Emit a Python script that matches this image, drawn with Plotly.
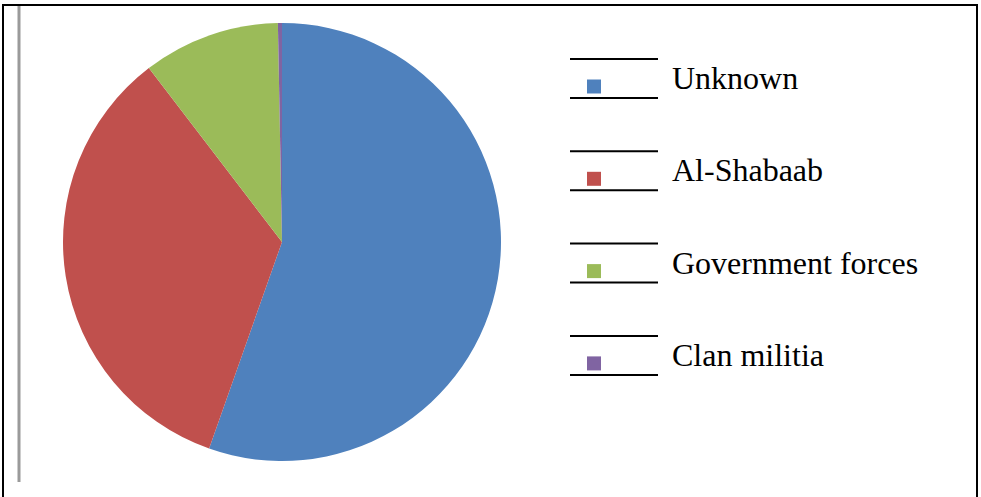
import plotly.graph_objects as go

labels = ["Unknown", "Al-Shabaab", "Government forces", "Clan militia"]
values = [55.4, 34.2, 10.1, 0.3]
colors = ["#4F81BD", "#C0504D", "#9BBB59", "#8064A2"]

W, H = 981, 497


def px(x):
    return x / W


def py(y):
    return 1 - y / H


fig = go.Figure()
fig.add_trace(go.Pie(
    labels=labels,
    values=values,
    marker=dict(colors=colors, line=dict(width=0)),
    sort=False,
    direction="clockwise",
    rotation=0,
    textinfo="none",
    hoverinfo="label+percent",
    showlegend=False,
    domain=dict(x=[px(282 - 219), px(282 + 219)], y=[py(242 + 219), py(242 - 219)]),
))

shapes = []
annotations = []
# outer frame (top, left, right)
frame = dict(type="line", xref="paper", yref="paper", line=dict(color="black", width=2))
shapes.append(dict(frame, x0=px(3), x1=px(978), y0=py(5), y1=py(5)))
shapes.append(dict(frame, x0=px(3), x1=px(3), y0=py(4), y1=py(497)))
shapes.append(dict(frame, x0=px(977), x1=px(977), y0=py(4), y1=py(497)))
# grey inner line on the left
shapes.append(dict(type="line", xref="paper", yref="paper", x0=px(19), x1=px(19),
                   y0=py(6), y1=py(482), line=dict(color="#9a9a9a", width=3)))

# hand-drawn legend
step = 92.3
for i, (lab, col) in enumerate(zip(labels, colors)):
    off = i * step
    for ly in (59 + off, 98 + off):
        shapes.append(dict(type="line", xref="paper", yref="paper",
                           x0=px(570), x1=px(658), y0=py(ly), y1=py(ly),
                           line=dict(color="black", width=2)))
    shapes.append(dict(type="rect", xref="paper", yref="paper",
                       x0=px(587), x1=px(601), y0=py(79.5 + off), y1=py(93.5 + off),
                       fillcolor=col, line=dict(width=0)))
    annotations.append(dict(text=lab, xref="paper", yref="paper",
                            x=px(670), y=py(78 + off), xanchor="left", yanchor="middle",
                            showarrow=False,
                            font=dict(family="Liberation Serif, Times New Roman, serif",
                                      size=32, color="black")))

fig.update_layout(
    width=W, height=H,
    margin=dict(l=0, r=0, t=0, b=0),
    paper_bgcolor="white",
    plot_bgcolor="white",
    shapes=shapes,
    annotations=annotations,
)

fig.write_html("out.html", config={"displayModeBar": False},
               post_script="document.body.style.margin='0';")
